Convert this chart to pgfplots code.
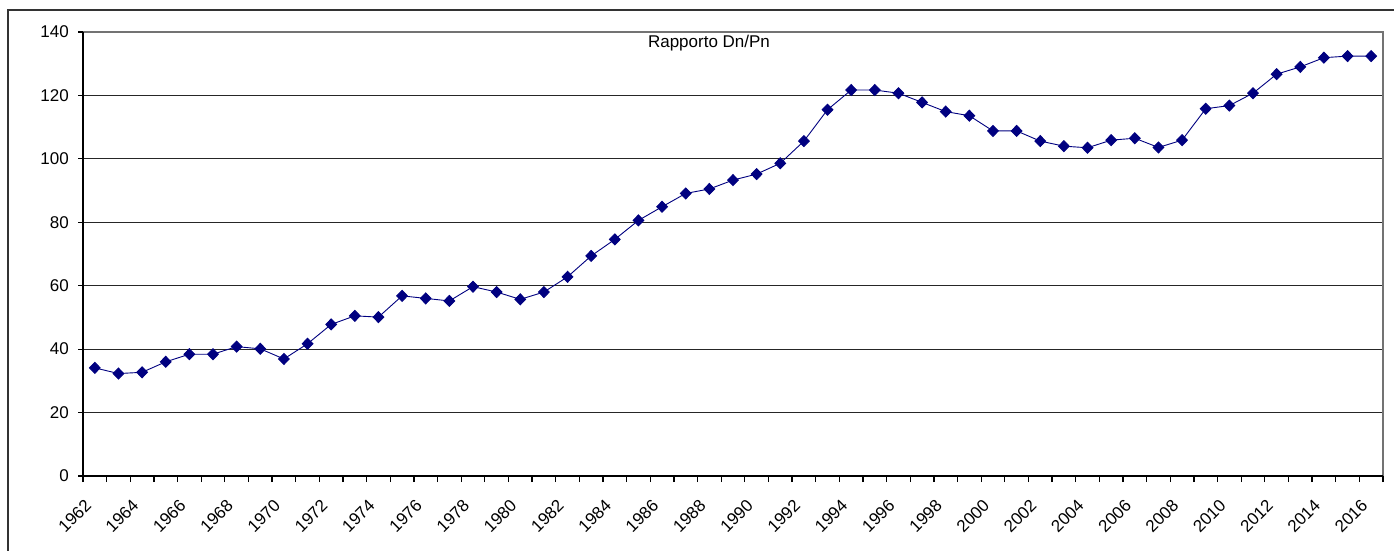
\documentclass[border=0pt]{standalone}
\usepackage{fontspec}
\setmainfont{Liberation Sans}
\usepackage{pgfplots}
\pgfplotsset{compat=1.18}
\definecolor{navy}{RGB}{0,0,128}
\pgfplotstableread{
year val
1962 34.1
1963 32.3
1964 32.7
1965 36.0
1966 38.4
1967 38.4
1968 40.8
1969 40.1
1970 36.9
1971 41.7
1972 47.8
1973 50.5
1974 50.1
1975 56.8
1976 56.0
1977 55.2
1978 59.7
1979 58.0
1980 55.7
1981 58.0
1982 62.8
1983 69.4
1984 74.6
1985 80.6
1986 84.9
1987 89.1
1988 90.5
1989 93.3
1990 95.2
1991 98.6
1992 105.6
1993 115.5
1994 121.7
1995 121.7
1996 120.7
1997 117.8
1998 114.9
1999 113.6
2000 108.8
2001 108.8
2002 105.6
2003 104.0
2004 103.5
2005 105.9
2006 106.5
2007 103.6
2008 105.9
2009 115.8
2010 116.8
2011 120.7
2012 126.7
2013 129.0
2014 131.9
2015 132.4
2016 132.4
}\datatable
\begin{document}
\begin{tikzpicture}
\path[use as bounding box] (0pt,0pt) rectangle (1394pt,550pt);
\fill[white] (0pt,0pt) rectangle (1394pt,550pt);
\draw[line width=1.5pt, black!80] (8pt,-20pt) rectangle (1420pt,540pt);
\begin{axis}[
  at={(83pt,74pt)}, anchor=south west,
  scale only axis, width=1300pt, height=444pt,
  xmin=1961.5, xmax=2016.5, ymin=0, ymax=140,
  ytick={0,20,...,140},
  xtick={1962,1964,...,2016},
  minor xtick={1961.5,1962.5,...,2016.5},
  tick pos=left,
  tick align=outside,
  major tick length=5pt, minor tick length=6pt,
  major x tick style={draw=none},
  tick style={black, line width=1.2pt},
  ymajorgrids,
  major grid style={black!85, line width=1.1pt},
  axis line style={draw=none},
  /pgf/number format/assume math mode=true,
  /pgf/number format/1000 sep={},
  ticklabel style={font=\fontsize{17}{20}\selectfont, text=black},
  xticklabel style={xshift=-11pt, yshift=-17pt, rotate=45, anchor=north east, inner sep=0pt},
  yticklabel style={inner sep=0pt, xshift=-9pt},
  clip=false,
]
\addplot[navy, line width=0.9pt, mark=diamond*, mark size=5.5pt,
  mark options={xscale=1.3, solid, fill=navy}] table[x=year, y=val] {\datatable};
\draw[black!55, line width=1.2pt] (rel axis cs:0,1) -- (rel axis cs:1,1) -- (rel axis cs:1,0);
\draw[black, line width=1.5pt] (rel axis cs:0,1) -- (rel axis cs:0,0) -- (rel axis cs:1,0);
\end{axis}
\node[font=\fontsize{17}{20}\selectfont] at (709pt,507pt) {Rapporto Dn/Pn};
\end{tikzpicture}
\end{document}
